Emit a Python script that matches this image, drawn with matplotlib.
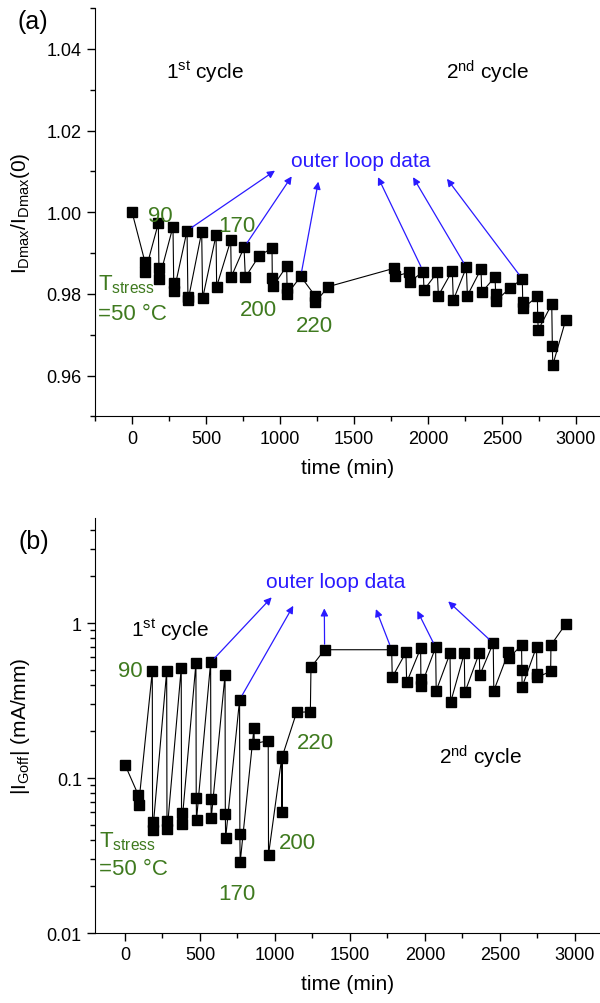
import matplotlib
matplotlib.use("Agg")
import matplotlib.pyplot as plt
from matplotlib.ticker import MultipleLocator, LogLocator, FixedLocator, NullFormatter

plt.rcParams["font.family"] = ["Liberation Sans", "DejaVu Sans"]
plt.rcParams["mathtext.fontset"] = "custom"
plt.rcParams["mathtext.rm"] = "Liberation Sans"
plt.rcParams["mathtext.it"] = "Liberation Sans:italic"

# panel (a): normalised I_Dmax vs time
time_a = [0, 88, 90, 178, 182, 184, 277, 282, 284, 372, 378, 380, 471, 477,
          568, 572, 667, 671, 757, 766, 860, 946, 948, 953, 1045, 1048, 1050,
          1140, 1236, 1239, 1327,
          1772, 1777, 1872, 1878, 1968, 1973, 2063, 2070, 2164, 2171, 2259,
          2266, 2358, 2363, 2453, 2457, 2459, 2552, 2637, 2640, 2642, 2739,
          2741, 2745, 2836, 2840, 2843, 2930]
idmax = [1.0001, 0.9878, 0.9855, 0.9973, 0.9863, 0.9837, 0.9965, 0.9826, 0.9807,
         0.9955, 0.9793, 0.9786, 0.9952, 0.9789, 0.9944, 0.9818, 0.9931, 0.9842,
         0.9914, 0.9841, 0.9894, 0.9912, 0.9839, 0.9819, 0.9868, 0.9814, 0.9800,
         0.9843, 0.9796, 0.9780, 0.9818,
         0.9863, 0.9843, 0.9853, 0.9830, 0.9855, 0.9810, 0.9853, 0.9796, 0.9857,
         0.9785, 0.9865, 0.9796, 0.9861, 0.9804, 0.9842, 0.9800, 0.9783, 0.9814,
         0.9837, 0.9780, 0.9765, 0.9794, 0.9743, 0.9712, 0.9775, 0.9673, 0.9626,
         0.9736]

# panel (b): |I_Goff| vs time
time_b = [0, 89, 91, 182, 184, 186, 278, 280, 282, 375, 377, 379, 473, 475, 477,
          571, 573, 575, 667, 669, 671, 764, 766, 768, 860, 862, 955, 957,
          1045, 1047, 1050, 1144, 1236, 1240, 1331,
          1778, 1782, 1873, 1878, 1971, 1973, 1975, 2071, 2075, 2167, 2171,
          2262, 2266, 2362, 2366, 2455, 2459, 2556, 2558, 2644, 2646, 2648,
          2744, 2746, 2748, 2838, 2840, 2938]
igoff = [0.122, 0.0777, 0.067, 0.488, 0.0522, 0.0462, 0.488, 0.053, 0.0469,
         0.512, 0.0594, 0.0503, 0.549, 0.074, 0.0538, 0.558, 0.073, 0.055,
         0.462, 0.059, 0.0408, 0.320, 0.0433, 0.0286, 0.210, 0.167, 0.174, 0.032,
         0.135, 0.060, 0.139, 0.265, 0.268, 0.518, 0.673,
         0.673, 0.447, 0.647, 0.414, 0.687, 0.435, 0.394, 0.697, 0.366, 0.637,
         0.308, 0.637, 0.357, 0.640, 0.462, 0.743, 0.366, 0.647, 0.592, 0.721,
         0.500, 0.388, 0.703, 0.469, 0.447, 0.488, 0.721, 0.985]

# outer loop points that get an arrow, and where the arrow heads end
outer_a = [(372, 0.9955), (757, 0.9914), (1140, 0.9843),
           (1968, 0.9855), (2259, 0.9865), (2637, 0.9837)]
heads_a = [(966, 1.0102), (1079, 1.0088), (1259, 1.0075),
           (1662, 1.0086), (1899, 1.0086), (2128, 1.0082)]
outer_b = [(571, 0.558), (764, 0.320), (1331, 0.673),
           (1778, 0.673), (2071, 0.697), (2455, 0.743)]
heads_b = [(978, 1.466), (1122, 1.293), (1329, 1.244),
           (1673, 1.231), (1949, 1.200), (2155, 1.380)]

temps = ["90", "170", "200", "220"]
temp_pos_a = [(189, 0.9992), (707, 0.9967), (853, 0.9763), (1236, 0.9722)]
temp_pos_b = [(38, 0.492), (743, 0.0179), (1149, 0.0385), (1271, 0.170)]

green = "#3f7a1f"
blue = "#2a1aff"

fig = plt.figure(figsize=(6, 10.04), dpi=100)
ax1 = fig.add_axes([0.1583, 0.5842, 0.8417, 0.4067])
ax2 = fig.add_axes([0.1583, 0.0697, 0.8417, 0.4133])

for ax in (ax1, ax2):
    ax.spines["top"].set_visible(False)
    ax.spines["right"].set_visible(False)
    ax.tick_params(which="both", direction="out", labelsize=13, width=1)
    ax.tick_params(which="major", length=6)
    ax.tick_params(which="minor", length=3.5)
    ax.xaxis.set_major_locator(MultipleLocator(500))
    ax.xaxis.set_minor_locator(MultipleLocator(250))
    ax.set_xlabel("time (min)", fontsize=15, labelpad=8)

# ---- (a)
ax1.plot(time_a, idmax, "-", color="black", lw=0.8, marker="s", ms=7,
         mfc="black", mec="black")
ax1.set_xlim(-250, 3162)
ax1.set_ylim(0.95, 1.05)
ax1.yaxis.set_major_locator(FixedLocator([0.96, 0.98, 1.00, 1.02, 1.04]))
ax1.yaxis.set_minor_locator(MultipleLocator(0.01))
ax1.set_yticklabels(["0.96", "0.98", "1.00", "1.02", "1.04"])
ax1.set_ylabel(r"I$_{\rm Dmax}$/I$_{\rm Dmax}$(0)", fontsize=15)
ax1.yaxis.set_label_coords(-0.125, 0.5)

ax1.text(493, 1.0346, r"1$^{\rm st}$ cycle", fontsize=15, ha="center", va="center")
ax1.text(2405, 1.0346, r"2$^{\rm nd}$ cycle", fontsize=15, ha="center", va="center")
ax1.text(1547, 1.0128, "outer loop data", fontsize=15, color=blue,
         ha="center", va="center")
for (tx, ty), (hx, hy) in zip(outer_a, heads_a):
    ax1.annotate("", xy=(hx, hy), xytext=(tx, ty),
                 arrowprops=dict(arrowstyle="-|>", color=blue, lw=0.9,
                                 mutation_scale=11, shrinkA=4, shrinkB=0))
for lab, (x, y) in zip(temps, temp_pos_a):
    ax1.text(x, y, lab, fontsize=16, color=green, ha="center", va="center")
ax1.text(-228, 0.9824, r"T$_{\rm stress}$", fontsize=16, color=green,
         ha="left", va="center")
ax1.text(-228, 0.9751, "=50 °C", fontsize=16, color=green, ha="left", va="center")

# ---- (b)
ax2.plot(time_b, igoff, "-", color="black", lw=0.8, marker="s", ms=7,
         mfc="black", mec="black")
ax2.set_yscale("log")
ax2.set_xlim(-200, 3167)
ax2.set_ylim(0.01, 4.76)
ax2.yaxis.set_major_locator(FixedLocator([0.01, 0.1, 1]))
ax2.yaxis.set_minor_locator(LogLocator(base=10, subs=range(2, 10)))
ax2.yaxis.set_minor_formatter(NullFormatter())
ax2.set_yticklabels(["0.01", "0.1", "1"])
ax2.set_ylabel(r"|I$_{\rm Goff}$| (mA/mm)", fontsize=15)
ax2.yaxis.set_label_coords(-0.125, 0.5)

ax2.text(303, 0.915, r"1$^{\rm st}$ cycle", fontsize=15, ha="center", va="center")
ax2.text(2373, 0.1387, r"2$^{\rm nd}$ cycle", fontsize=15, ha="center", va="center")
ax2.text(1407, 1.866, "outer loop data", fontsize=15, color=blue,
         ha="center", va="center")
for (tx, ty), (hx, hy) in zip(outer_b, heads_b):
    ax2.annotate("", xy=(hx, hy), xytext=(tx, ty),
                 arrowprops=dict(arrowstyle="-|>", color=blue, lw=0.9,
                                 mutation_scale=11, shrinkA=4, shrinkB=0))
for lab, (x, y) in zip(temps, temp_pos_b):
    ax2.text(x, y, lab, fontsize=16, color=green, ha="center", va="center")
ax2.text(-173, 0.0396, r"T$_{\rm stress}$", fontsize=16, color=green,
         ha="left", va="center")
ax2.text(-173, 0.0259, "=50 °C", fontsize=16, color=green, ha="left", va="center")

fig.text(0.055, 0.978, "(a)", fontsize=18, ha="center", va="center")
fig.text(0.057, 0.46, "(b)", fontsize=18, ha="center", va="center")

fig.savefig("out.png", dpi=100)
